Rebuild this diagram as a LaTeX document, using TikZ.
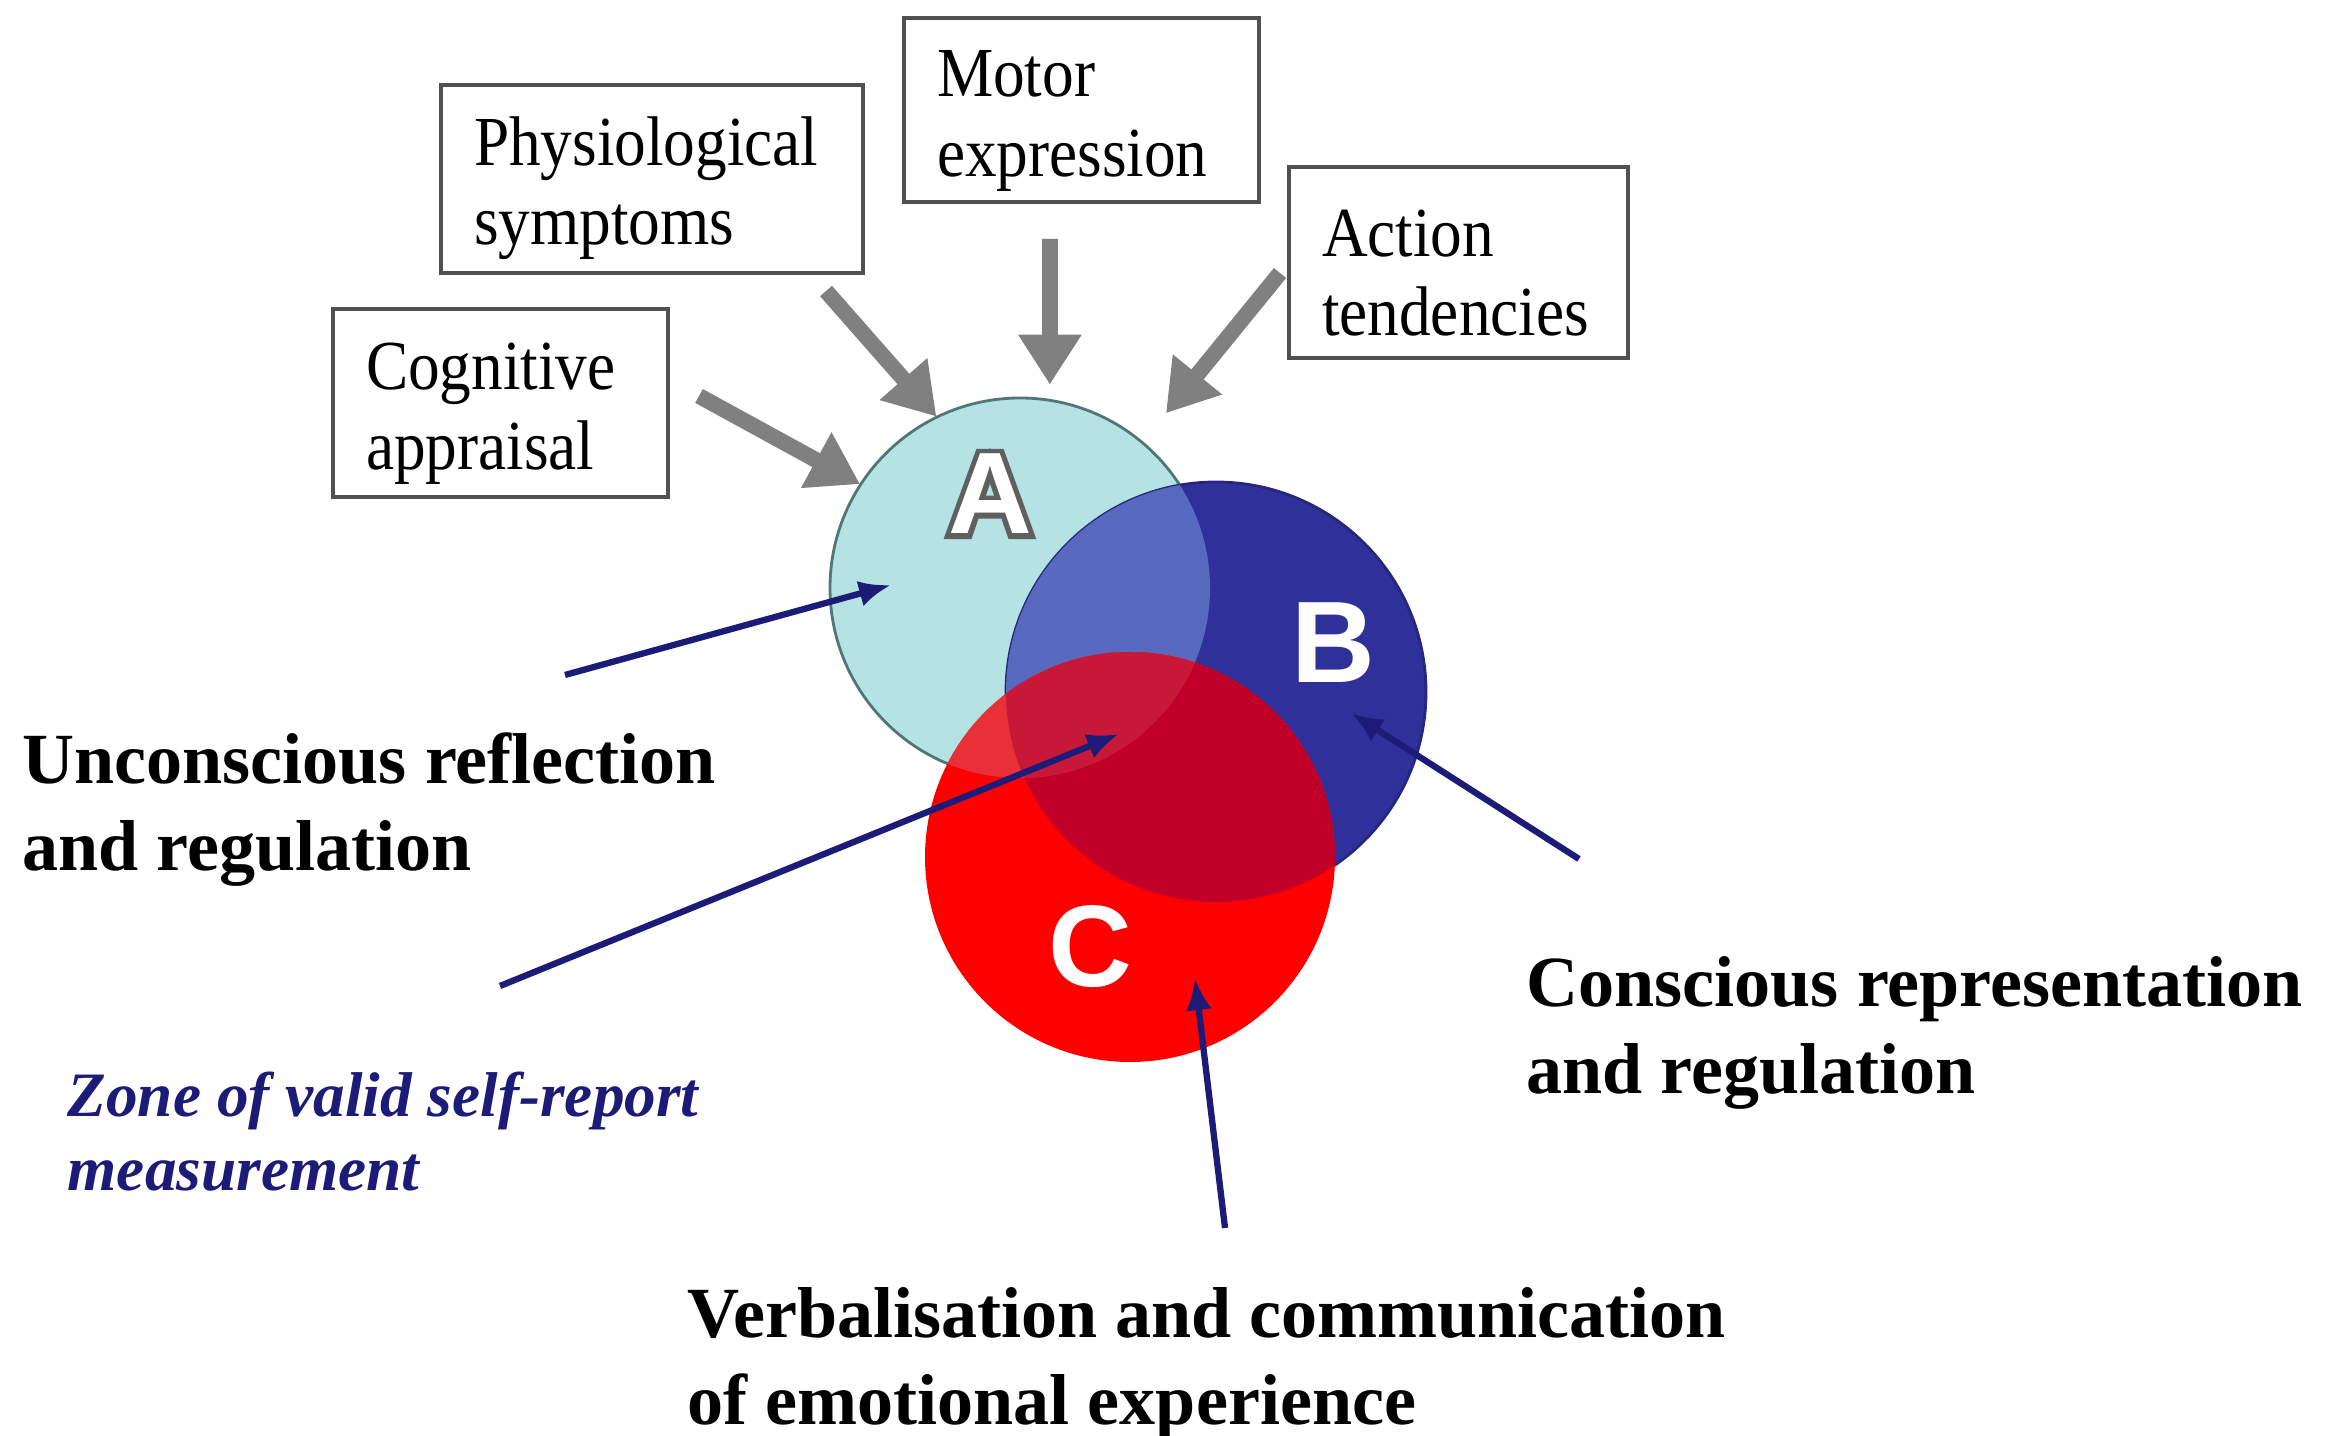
\documentclass[tikz,border=0pt]{standalone}
\usepackage{fontspec}
\setmainfont{Liberation Serif}
\newfontfamily\lettersans{Liberation Sans}
\newfontfamily\letterrim[FakeBold=9]{Liberation Sans}
\newfontfamily\boxserif[FakeStretch=0.9]{Liberation Serif}
\usepackage{tikz}
\usetikzlibrary{arrows.meta}
\tikzset{>=latex}
\definecolor{acyan}{RGB}{181,226,226}
\definecolor{aedge}{RGB}{80,118,118}
\definecolor{bnavy}{RGB}{48,48,155}
\definecolor{abblue}{RGB}{88,106,192}
\definecolor{cred}{RGB}{255,0,0}
\definecolor{bcred}{RGB}{192,0,40}
\definecolor{acred}{RGB}{232,48,56}
\definecolor{abcred}{RGB}{200,24,56}
\definecolor{linknavy}{RGB}{28,28,120}
\definecolor{boxgray}{RGB}{80,80,80}
\definecolor{pushgray}{RGB}{128,128,128}
\definecolor{lettergray}{RGB}{95,95,95}
\tikzset{
    factor/.style={draw=boxgray,line width=0.9pt,rectangle,inner xsep=0.33cm,inner ysep=0pt,
        align=left,font=\boxserif\fontsize{20}{22.5}\selectfont,
        execute at begin node={\rule{0pt}{0.68cm}}},
    spot/.style={circle,inner sep=0pt},
    letter/.style={font=\lettersans\bfseries\fontsize{33}{33}\selectfont,inner sep=0pt},
    push/.style={pushgray,line width=4.5pt,-{Triangle[length=0.5cm,width=0.6cm]}},
    link/.style={linknavy,line width=1.8pt,-{Latex[length=0.32cm,width=0.26cm]}},
    note/.style={anchor=north west,inner sep=0pt,align=left,
        font=\bfseries\fontsize{20.5}{24.7}\selectfont},
    zone/.style={anchor=north west,inner sep=0pt,align=left,text=linknavy,
        font=\bfseries\itshape\fontsize{18}{21}\selectfont},
}

\begin{document}
\begin{tikzpicture}
    \useasboundingbox (0,0) rectangle (23.42,14.35);
    % circles A, B and C
    \node[spot,minimum size=3.8cm] (a) at (10.20,8.47) {};
    \node[spot,minimum size=4.2cm] (b) at (12.16,7.43) {};
    \node[spot,minimum size=4.1cm] (c) at (11.30,5.78) {};
    \filldraw[fill=acyan,draw=aedge,line width=0.8pt] (a) circle (1.90);
    \filldraw[fill=bnavy,draw=bnavy!80!black,line width=0.8pt] (b) circle (2.10);
    \begin{scope}
        \clip (a) circle (1.90);
        \fill[abblue] (b) circle (2.10);
    \end{scope}
    \fill[cred] (c) circle (2.05);
    \begin{scope}
        \clip (b) circle (2.10);
        \fill[bcred] (c) circle (2.05);
    \end{scope}
    \begin{scope}
        \clip (a) circle (1.90);
        \fill[acred] (c) circle (2.05);
        \clip (b) circle (2.10);
        \fill[abcred] (c) circle (2.05);
    \end{scope}
    \node[letter,font=\letterrim\bfseries\fontsize{33}{33}\selectfont,text=lettergray] (rim) at (9.90,9.41) {A};
    \node[letter,text=white] (la) at (9.90,9.41) {A};
    \node[letter,text=white] (lb) at (13.33,7.92) {B};
    \node[letter,text=white] (lc) at (10.90,4.88) {C};
    % component boxes
    \node[factor,text width=2.69cm,minimum height=1.88cm] (cog) at (5.005,10.32) {Cognitive\\appraisal};
    \node[factor,text width=3.56cm,minimum height=1.88cm] (phys) at (6.52,12.56) {Physiological\\symptoms};
    \node[factor,text width=2.89cm,minimum height=1.84cm] (mot) at (10.815,13.25) {Motor\\expression};
    \node[factor,text width=2.73cm,minimum height=1.91cm] (act) at (14.585,11.725) {Action\\tendencies};
    \coordinate (cog-tail) at (6.99,10.39);
    \coordinate (phys-tail) at (8.26,11.44);
    \coordinate (mot-tail) at (10.50,11.96);
    \coordinate (act-tail) at (12.80,11.62);
    \draw[push] (cog-tail) -- (a.147);
    \draw[push] (phys-tail) -- (a.116);
    \draw[push,shorten >=0.15cm] (mot-tail) -- (a.81);
    \draw[push,shorten >=0.37cm] (act-tail) -- (a.50);
    % labels
    \node[note] (unc) at (0.22,7.03) {Unconscious reflection\\and regulation};
    \node[note] (con) at (15.26,4.79) {Conscious representation\\and regulation};
    \node[note] (verb) at (6.87,1.48) {Verbalisation and communication\\of emotional experience};
    \node[zone] (zone) at (0.67,3.64) {Zone of valid self-report\\measurement};
    \coordinate (unc-tail) at (5.65,7.60);
    \coordinate (unc-tip) at (8.91,8.50);
    \coordinate (zone-tail) at (5.00,4.49);
    \coordinate (zone-tip) at (11.19,7.01);
    \coordinate (con-tail) at (15.79,5.76);
    \coordinate (con-tip) at (13.51,7.22);
    \coordinate (verb-tail) at (12.25,2.07);
    \coordinate (verb-tip) at (11.95,4.57);
    \draw[link] (unc-tail) -- (unc-tip);
    \draw[link] (zone-tail) -- (zone-tip);
    \draw[link] (con-tail) -- (con-tip);
    \draw[link] (verb-tail) -- (verb-tip);
\end{tikzpicture}
\end{document}
